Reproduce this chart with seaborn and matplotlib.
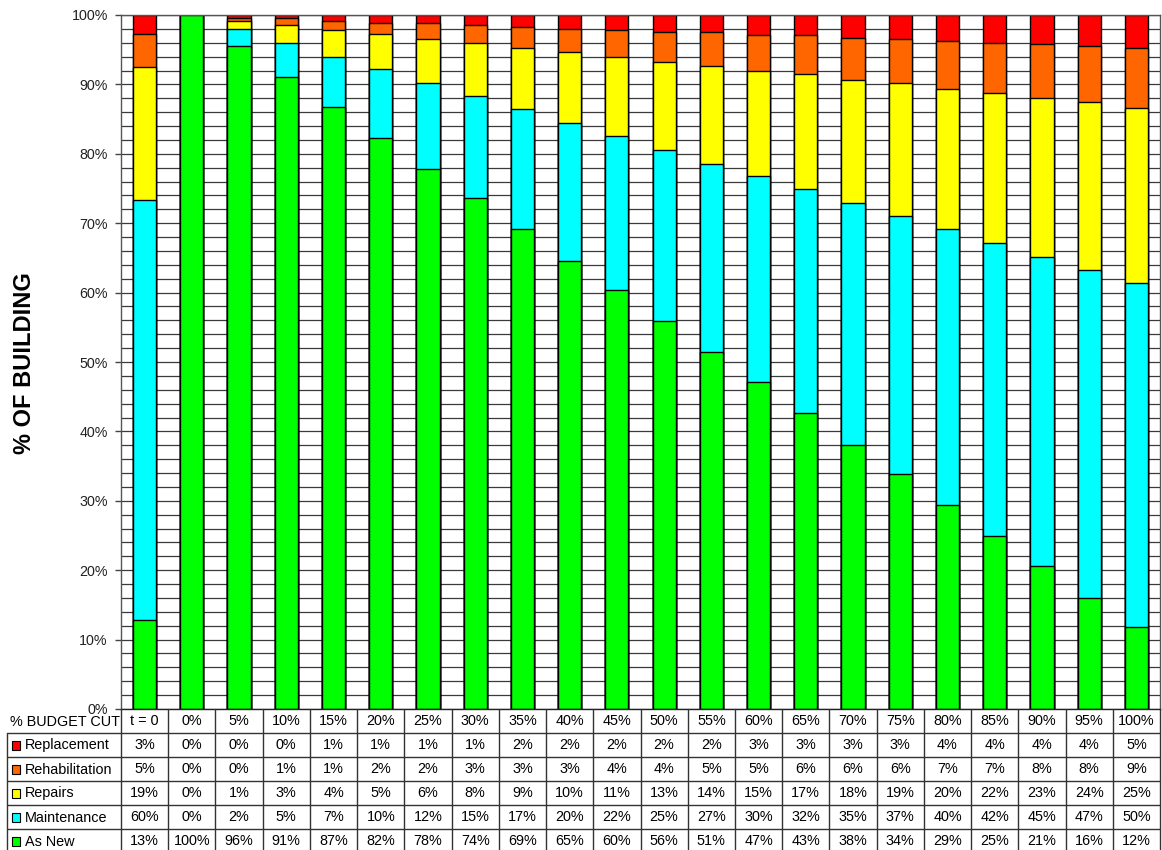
import numpy as np
import matplotlib
matplotlib.use("Agg")
import matplotlib.pyplot as plt
import seaborn as sns
from matplotlib.patches import Rectangle
from matplotlib.lines import Line2D
from matplotlib.transforms import Affine2D, blended_transform_factory

# ---- data -------------------------------------------------------------
budget_cut = ["t = 0", "0%", "5%", "10%", "15%", "20%", "25%", "30%", "35%",
              "40%", "45%", "50%", "55%", "60%", "65%", "70%", "75%", "80%",
              "85%", "90%", "95%", "100%"]

as_new = [12.8, 100.0, 95.6, 91.1, 86.7, 82.3, 77.8, 73.6, 69.2, 64.6, 60.4,
          55.9, 51.4, 47.1, 42.7, 38.1, 33.9, 29.4, 25.0, 20.6, 16.0, 11.8]
maintenance = [60.5, 0.0, 2.4, 4.9, 7.3, 9.9, 12.4, 14.7, 17.2, 19.9, 22.2,
               24.6, 27.2, 29.7, 32.2, 34.8, 37.1, 39.7, 42.1, 44.6, 47.3, 49.6]
repairs = [19.2, 0.0, 1.1, 2.6, 3.8, 5.1, 6.4, 7.7, 8.8, 10.1, 11.3,
           12.7, 14.0, 15.2, 16.6, 17.7, 19.2, 20.2, 21.6, 22.8, 24.1, 25.2]
rehabilitation = [4.8, 0.0, 0.4, 0.9, 1.4, 1.6, 2.2, 2.6, 3.1, 3.4, 3.9,
                  4.4, 5.0, 5.1, 5.6, 6.1, 6.4, 6.9, 7.3, 7.8, 8.2, 8.6]
replacement = [2.7, 0.0, 0.5, 0.5, 0.8, 1.1, 1.2, 1.4, 1.7, 2.0, 2.2,
               2.4, 2.4, 2.9, 2.9, 3.3, 3.4, 3.8, 4.0, 4.2, 4.4, 4.8]

# stacking order, bottom to top
stack_names = ["As New", "Maintenance", "Repairs", "Rehabilitation", "Replacement"]
stack_values = [as_new, maintenance, repairs, rehabilitation, replacement]
stack_colors = ["#00FF00", "#00FFFF", "#FFFF00", "#FF6600", "#FF0000"]

# ---- figure -----------------------------------------------------------
W, H = 1162, 850
sns.set_theme(style="white")
plt.rcParams["font.family"] = ["Liberation Sans", "DejaVu Sans"]

fig = plt.figure(figsize=(W / 100, H / 100), dpi=100)
ax_left, ax_right, ax_top, ax_bottom = 121, 1160, 15, 709
ax = fig.add_axes([ax_left / W, 1 - ax_bottom / H,
                   (ax_right - ax_left) / W, (ax_bottom - ax_top) / H])

# stacked bars: draw cumulative totals from the top layer down
cum = np.cumsum(np.array(stack_values), axis=0)
for k in range(len(stack_names) - 1, -1, -1):
    sns.barplot(x=budget_cut, y=cum[k], order=budget_cut, color=stack_colors[k],
                saturation=1, edgecolor="black", linewidth=1.0, width=0.49,
                errorbar=None, ax=ax, zorder=2)

n = len(budget_cut)
ax.set_xlim(-0.5, n - 0.5)
ax.set_ylim(0, 100)
ax.set_yticks(np.arange(0, 101, 10))
ax.set_yticks(np.arange(0, 101, 2), minor=True)
ax.set_yticklabels([f"{v}%" for v in range(0, 101, 10)], fontsize=10.3, color="#222222")
ax.set_xticks([])
ax.set_xlabel("")
ax.set_ylabel("")
ax.tick_params(axis="y", which="major", direction="out", length=4.5, width=1,
               color="#444444", pad=5, left=True)
ax.tick_params(axis="y", which="minor", length=0)
ax.grid(axis="y", which="both", color="#3a3a3a", linewidth=0.9)
ax.grid(axis="x", visible=False)
ax.set_axisbelow(True)
for side in ["left", "right", "top", "bottom"]:
    ax.spines[side].set_visible(True)
    ax.spines[side].set_color("#555555")
    ax.spines[side].set_linewidth(1.0)
ax.spines["bottom"].set_color("#222222")

fig.text(25 / W, 1 - 363 / H, "% OF BUILDING", rotation=90, fontsize=17,
         fontweight="bold", ha="center", va="center", color="black")

# ---- data table under the plot -----------------------------------------
pix = Affine2D().scale(1 / W, -1 / H).translate(0, 1) + fig.transFigure
col_y = blended_transform_factory(ax.transData, pix)

row_edges = [709, 733, 757, 781, 805, 829, 853]
line_kw = dict(color="#333333", linewidth=1.0, clip_on=False)

# horizontal rules
for y in row_edges[1:]:
    fig.add_artist(Line2D([7, ax_right], [y, y], transform=pix, **line_kw))
# vertical rules
fig.add_artist(Line2D([7, 7], [row_edges[1], row_edges[-1]], transform=pix, **line_kw))
for i in range(n + 1):
    fig.add_artist(Line2D([i - 0.5, i - 0.5], [row_edges[0], row_edges[-1]],
                          transform=col_y, **line_kw))

text_kw = dict(fontsize=10.4, color="black", va="center")
row_mid = [(row_edges[r] + row_edges[r + 1]) / 2 + 0.5 for r in range(6)]

# header row
fig.text(10 / W, 1 - row_mid[0] / H, "% BUDGET CUT", ha="left", **text_kw)
for i, lab in enumerate(budget_cut):
    ax.text(i, row_mid[0], lab, transform=col_y, ha="center", clip_on=False, **text_kw)

# one row per series, top layer first
for r, k in enumerate(range(len(stack_names) - 1, -1, -1), start=1):
    ym = row_mid[r]
    fig.add_artist(Rectangle((12, ym - 4.5), 8, 9, transform=pix,
                             facecolor=stack_colors[k], edgecolor="black",
                             linewidth=0.8))
    fig.text(25 / W, 1 - ym / H, stack_names[k], ha="left", **text_kw)
    for i, v in enumerate(stack_values[k]):
        ax.text(i, ym, f"{v:.0f}%", transform=col_y, ha="center",
                clip_on=False, **text_kw)

fig.savefig("out.png", dpi=100)
